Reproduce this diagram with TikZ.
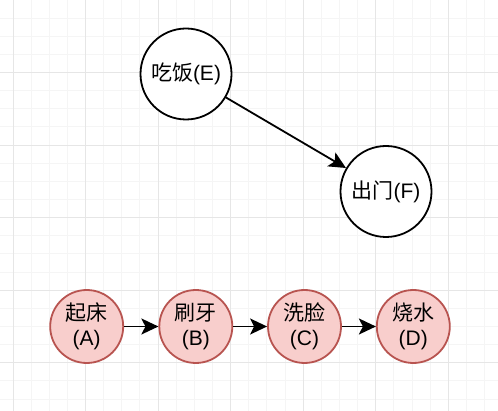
\documentclass[tikz,border=0pt]{standalone}
\usepackage{fontspec}
\setmainfont{Liberation Sans}
\newfontfamily\cjk{Noto Sans CJK SC}
\usetikzlibrary{arrows.meta}
\definecolor{gridminor}{HTML}{F5F5F5}
\definecolor{gridmajor}{HTML}{E6E6E6}
\definecolor{stepfill}{HTML}{F8CECC}
\definecolor{stepline}{HTML}{B85450}
\tikzset{
  plain/.style={circle, draw=black, line width=1.8pt, fill=white, minimum size=91pt, inner sep=0pt, font=\fontsize{21}{24.5}\selectfont},
  task/.style={circle, draw=stepline, line width=1.8pt, fill=stepfill, minimum size=73pt, inner sep=0pt, align=center, font=\fontsize{21}{24.5}\selectfont},
  link/.style={-{Stealth[length=17pt,width=16pt,inset=4pt]}, line width=1.8pt}
}
\begin{document}
\begin{tikzpicture}[x=1pt,y=-1pt]
	\useasboundingbox (0,0) rectangle (498,411);
	\fill[white] (0,0) rectangle (498,411);
	
	% grid
	\foreach \i in {0,...,28} {
		\draw[gridminor, line width=1pt] ({-5.14+18.14*\i},0) -- ({-5.14+18.14*\i},411);
		\draw[gridminor, line width=1pt] (0,{18.14*\i}) -- (498,{18.14*\i});
	}
	\foreach \i in {0,...,6} {
		\draw[gridmajor, line width=1pt] ({13+72.55*\i},0) -- ({13+72.55*\i},411);
		\draw[gridmajor, line width=1pt] (0,{72.55*\i}) -- (498,{72.55*\i});
	}
	
	% top
	\node[plain] (E) at (186,74) {{\cjk 吃饭}(E)};
	\node[plain] (F) at (386,191.5) {{\cjk 出门}(F)};
	\draw[link] (E) -- (F);
	
	% bottom
	\node[task] (A) at (86.7,326.5) {{\cjk 起床}\\(A)};
	\node[task] (B) at (195.8,326.5) {{\cjk 刷牙}\\(B)};
	\node[task] (C) at (304.5,326.5) {{\cjk 洗脸}\\(C)};
	\node[task] (D) at (413.3,326.5) {{\cjk 烧水}\\(D)};
	\draw[link] (A) -- (B);
	\draw[link] (B) -- (C);
	\draw[link] (C) -- (D);
\end{tikzpicture}
\end{document}
